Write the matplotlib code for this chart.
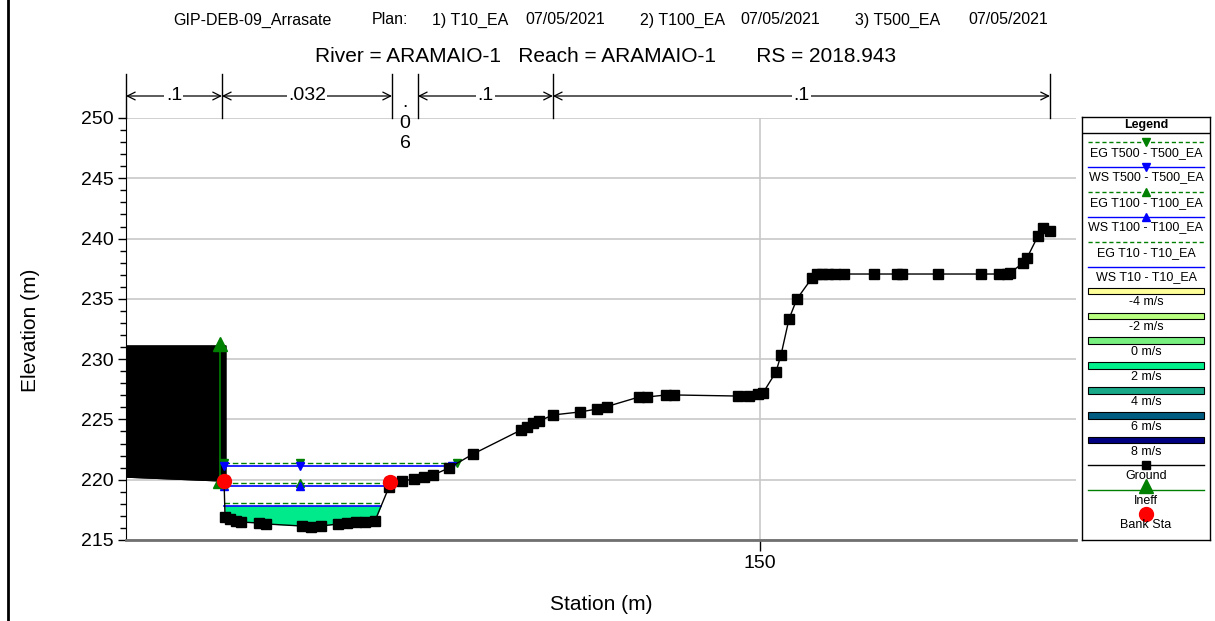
import numpy as np
import matplotlib
matplotlib.use('Agg')
import matplotlib.pyplot as plt
from matplotlib.patches import Rectangle, Polygon

plt.rcParams['font.family'] = ['Liberation Sans', 'DejaVu Sans']

# ground points of the cross section (station m, elevation m)
ground_sta = [105.0, 111.96, 112.03, 112.38, 112.81, 113.16, 114.44, 114.94, 117.49, 118.13,
              118.84, 120.05, 120.68, 121.32, 121.96, 122.67, 123.67, 123.74, 124.59, 125.44,
              126.15, 126.79, 127.92, 129.63, 133.03, 133.46, 133.89, 134.31, 135.31, 137.22,
              138.43, 139.14, 141.41, 141.98, 143.33, 143.89, 148.43, 149.22, 149.86, 150.21,
              151.13, 151.49, 152.06, 152.62, 153.69, 154.04, 154.40, 154.82, 155.32, 155.96,
              158.09, 159.72, 160.07, 162.63, 165.68, 166.96, 167.53, 167.74, 168.66, 168.95,
              169.73, 170.08, 170.58]
ground_elev = [220.22, 219.89, 216.91, 216.74, 216.58, 216.49, 216.41, 216.33, 216.16, 216.08,
               216.16, 216.33, 216.41, 216.49, 216.49, 216.58, 219.40, 219.81, 219.89, 220.06,
               220.22, 220.39, 220.97, 222.13, 224.12, 224.37, 224.70, 224.87, 225.37, 225.62,
               225.86, 226.07, 226.86, 226.86, 227.03, 227.03, 226.94, 226.94, 227.07, 227.19,
               228.93, 230.34, 233.33, 234.99, 236.73, 237.06, 237.06, 237.06, 237.06, 237.06,
               237.06, 237.06, 237.06, 237.06, 237.06, 237.06, 237.06, 237.14, 237.97, 238.39,
               240.21, 240.88, 240.63]

bank_sta = [111.96, 123.74]
bank_elev = [219.89, 219.81]

# manning's n regions
n_bounds = [105.0, 111.81, 123.88, 125.72, 135.3, 170.58]
n_vals = ['.1', '.032', '.06', '.1', '.1']

obs_sta = 112.1      # blocked obstruction (left side)
obs_top = 231.1
ineff_sta = 111.67
ineff_elev = 231.25

profiles = ['T500', 'T100', 'T10']
ws_elev = [221.11, 219.50, 217.84]
eg_elev = [221.36, 219.75, 218.09]
prof_marker = ['v', '^', None]
marker_sta = 117.35

speed_labels = ['-4 m/s', '-2 m/s', '0 m/s', '2 m/s', '4 m/s', '6 m/s', '8 m/s']
speed_colors = ['#FFFF99', '#B8FF80', '#78F080', '#00F08C', '#18A888', '#005C80', '#000080']
fill_color = '#00E98A'

title1_parts = ['GIP-DEB-09_Arrasate', 'Plan:', '1) T10_EA', '07/05/2021',
                '2) T100_EA', '07/05/2021', '3) T500_EA', '07/05/2021']
title1_x = [173, 372, 432, 525, 640, 740, 855, 968]   # pixel starts
title2 = 'River = ARAMAIO-1   Reach = ARAMAIO-1       RS = 2018.943'

W, H = 1215, 621
gs = np.array(ground_sta)
ge = np.array(ground_elev)


def wet_right(level):
    i = int(np.argmin(ge))
    while ge[i + 1] < level:
        i += 1
    return gs[i] + (level - ge[i]) / (ge[i + 1] - ge[i]) * (gs[i + 1] - gs[i])


fig = plt.figure(figsize=(W / 100, H / 100), dpi=100)
ax = fig.add_axes([126 / W, 1 - 540 / H, 950 / W, 422 / H])
ax.set_xlim(105.0, 172.43)
ax.set_ylim(215, 250)

# grid
ax.set_yticks(np.arange(215, 251, 5))
ax.set_yticks(np.arange(215, 251, 1), minor=True)
ax.set_xticks([150])
ax.grid(True, which='major', color='#c8c8c8', lw=1.2, zorder=0)
ax.set_axisbelow(True)
ax.tick_params(axis='y', which='major', length=6, width=1, labelsize=14, pad=3)
ax.tick_params(axis='y', which='minor', length=4, width=1)
ax.tick_params(axis='x', which='major', length=8, width=1, labelsize=14, pad=3)
for s in ['top', 'right']:
    ax.spines[s].set_visible(False)
ax.spines['left'].set_color('black')
ax.spines['bottom'].set_color('#707070')
ax.spines['bottom'].set_linewidth(2)

# blocked obstruction
left_part = gs <= bank_sta[0]
poly = [(gs[0], obs_top), (obs_sta, obs_top), (obs_sta, bank_elev[0])]
poly += list(zip(gs[left_part][::-1], ge[left_part][::-1]))
ax.add_patch(Polygon(poly, closed=True, fc='black', ec='black', zorder=2))

# ineffective area
g_ineff = np.interp(ineff_sta, gs, ge)
ax.plot([ineff_sta, ineff_sta], [g_ineff, ineff_elev], color='#008000', lw=1.2, zorder=3)
ax.plot([ineff_sta, ineff_sta], [g_ineff, ineff_elev], ls='none', marker='^',
        color='#008000', ms=10, zorder=6)

# water surfaces
left = bank_sta[0]
for p, ws, eg, mk in zip(profiles, ws_elev, eg_elev, prof_marker):
    r_ws = wet_right(ws)
    r_eg = wet_right(eg)
    ax.plot([left, r_eg], [eg, eg], color='#008000', lw=1, ls=(0, (4, 2)), zorder=4)
    ax.plot([left, r_ws], [ws, ws], color='#0000FF', lw=1.2, zorder=4)
    if mk:
        ax.plot([left, marker_sta, r_eg], [eg] * 3, ls='none', marker=mk,
                color='#008000', ms=6, zorder=5)
        ax.plot([left, marker_sta, r_ws], [ws] * 3, ls='none', marker=mk,
                color='#0000FF', ms=6, zorder=5)
    if p == 'T10':
        inside = (gs > left) & (gs < r_ws)
        xs = np.concatenate([[left + 0.04], gs[inside], [r_ws]])
        gy = np.minimum(np.interp(xs, gs, ge), ws)
        ax.fill_between(xs, gy, ws, color=fill_color, lw=0, zorder=3)

# ground
ax.plot(gs, ge, color='black', lw=1, zorder=5)
ax.plot(gs[1:], ge[1:], ls='none', marker='s', color='black', ms=6.5, zorder=5)
ax.plot(bank_sta, bank_elev, ls='none', marker='o', color='red', ms=10, zorder=6)

fig.text(30 / W, 1 - 330 / H, 'Elevation (m)', rotation=90, ha='center', va='center', fontsize=15)
fig.text(601 / W, 1 - 605 / H, 'Station (m)', ha='center', va='center', fontsize=15)
for t, px in zip(title1_parts, title1_x):
    fig.text(px / W, 1 - 20 / H, t, ha='left', va='center', fontsize=11.5)
fig.text(606 / W, 1 - 57 / H, title2, ha='center', va='center', fontsize=15)

# manning's n bar
axn = fig.add_axes([126 / W, 1 - 118 / H, 950 / W, 48 / H])
axn.set_xlim(ax.get_xlim())
axn.set_ylim(0, 48)
axn.axis('off')
for b in n_bounds:
    axn.plot([b, b], [0, 44], color='black', lw=1, clip_on=False)
for b0, b1, v in zip(n_bounds[:-1], n_bounds[1:], n_vals):
    mid = (b0 + b1) / 2
    if b1 - b0 < 3:
        axn.text(mid, -5, '\n'.join(v), ha='center', va='center', fontsize=14,
                 linespacing=1.3, clip_on=False)
    else:
        axn.annotate('', xy=(b0, 22), xytext=(b1, 22),
                     arrowprops=dict(arrowstyle='<->', shrinkA=0, shrinkB=0, lw=0.9,
                                     mutation_scale=14))
        axn.text(mid, 22, v, ha='center', va='center', fontsize=14,
                 bbox=dict(fc='white', ec='none', pad=1))

# legend box
lg = fig.add_axes([1082 / W, 1 - 540 / H, 128 / W, 423 / H])
lg.set_xlim(0, 128)
lg.set_ylim(423, 0)
lg.set_xticks([])
lg.set_yticks([])
for s in lg.spines.values():
    s.set_color('black')
    s.set_linewidth(1)
lfs = 9
lg.text(64, 8, 'Legend', ha='center', va='center', fontsize=lfs, fontweight='bold')
lg.plot([0, 128], [16, 16], color='black', lw=1)
y = 25
for p, mk in zip(profiles, prof_marker):
    lg.plot([6, 122], [y, y], color='#008000', lw=1, ls=(0, (3, 2)))
    if mk:
        lg.plot([64], [y], marker=mk, color='#008000', ms=6)
    lg.text(64, y + 11, f'EG {p} - {p}_EA', ha='center', va='center', fontsize=lfs)
    y += 25
    lg.plot([6, 122], [y, y], color='#0000FF', lw=1)
    if mk:
        lg.plot([64], [y], marker=mk, color='#0000FF', ms=6)
    lg.text(64, y + 10.5, f'WS {p} - {p}_EA', ha='center', va='center', fontsize=lfs)
    y += 25
y = 174
for lab, c in zip(speed_labels, speed_colors):
    lg.add_patch(Rectangle((6, y - 3.3), 116, 6.6, fc=c, ec='black', lw=0.8))
    lg.text(64, y + 11.5, lab, ha='center', va='center', fontsize=lfs)
    y += 24.85
lg.plot([6, 122], [348, 348], color='black', lw=1)
lg.plot([64], [348], marker='s', color='black', ms=6)
lg.text(64, 359, 'Ground', ha='center', va='center', fontsize=lfs)
lg.plot([6, 122], [373, 373], color='#008000', lw=1)
lg.plot([64], [369], marker='^', color='#008000', ms=10)
lg.text(64, 384, 'Ineff', ha='center', va='center', fontsize=lfs)
lg.plot([64], [397], marker='o', color='red', ms=10)
lg.text(64, 408, 'Bank Sta', ha='center', va='center', fontsize=lfs)

# left border of the page
fig.add_artist(plt.Line2D([8 / W, 8 / W], [0, 1], color='black', lw=2,
                          transform=fig.transFigure))

fig.savefig('out.png', dpi=100)
